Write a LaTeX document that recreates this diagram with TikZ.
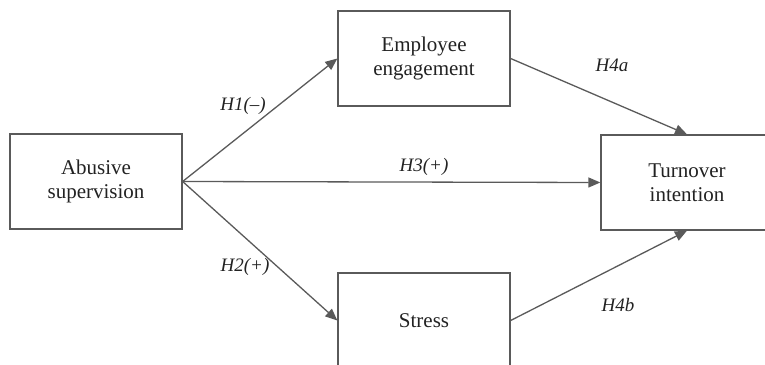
\documentclass[tikz,border=0pt]{standalone}
\usepackage{fontspec}
\setmainfont{Liberation Serif}
\usetikzlibrary{arrows.meta}
\definecolor{linegray}{HTML}{5A5A5A}
\definecolor{textgray}{HTML}{222222}
\begin{document}
\begin{tikzpicture}[x=1pt,y=-1pt,
  box/.style={draw=linegray, line width=1.3pt, minimum width=172pt, minimum height=95pt,
    inner sep=0pt, align=center, text=textgray, font=\fontsize{21}{24}\selectfont},
  conn/.style={draw=linegray, line width=1.3pt, -{Triangle[length=12pt,width=10pt]}},
  hlab/.style={font=\fontsize{19}{22}\selectfont\itshape, text=textgray, inner sep=0pt}]
\useasboundingbox (0,0) rectangle (765,364);
\begin{scope}
\clip (0,0) rectangle (765,364);
\node[box] (abus) at (96,181.5) {Abusive\\supervision};
\node[box] (eng) at (424,58.5) {Employee\\engagement};
\node[box] (stress) at (424,320.5) {Stress};
\node[box] (turn) at (687,182.5) {Turnover\\intention};
\draw[conn] (abus.east) -- (eng.west);
\draw[conn] (abus.east) -- (turn.west);
\draw[conn] (abus.east) -- (stress.west);
\draw[conn] (eng.east) -- (turn.north);
\draw[conn] (stress.east) -- (turn.south);
\node[hlab] (h1) at (243,106) {H1(–)};
\node[hlab] (h2) at (245,267) {H2(+)};
\node[hlab] (h3) at (424,167) {H3(+)};
\node[hlab] (h4a) at (612,65) {H4a};
\node[hlab] (h4b) at (618,305) {H4b};
\end{scope}
\end{tikzpicture}
\end{document}
